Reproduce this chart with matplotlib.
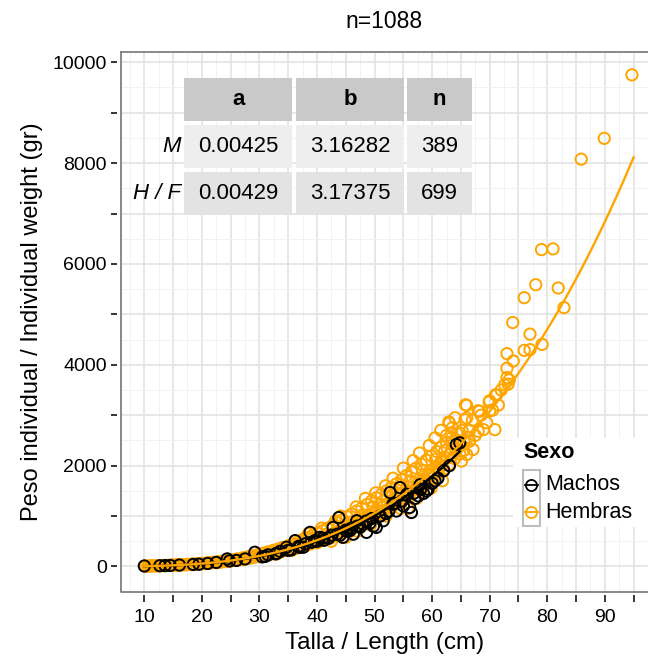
import numpy as np
import matplotlib
matplotlib.use("Agg")
import matplotlib.pyplot as plt
from matplotlib.patches import Rectangle
from matplotlib.lines import Line2D

plt.rcParams['font.family'] = ['Liberation Sans', 'DejaVu Sans']

# ---- datos ----
# Hembras (orange)
hem_talla = [10.2, 10.9, 11.4, 11.8, 12.3, 12.7, 13.2, 13.6, 14.1, 14.5, 15.0, 15.3, 15.9, 16.2, 16.8,
             17.1, 17.7, 18.0, 18.4, 18.9, 19.3, 19.8, 20.1, 20.6, 21.0, 21.5, 21.9, 22.4, 22.7, 23.3,
             23.6, 24.1, 24.5, 25.0, 25.4, 25.9, 26.2, 26.8, 27.1, 27.6, 28.0, 28.5, 28.9, 29.3, 29.8,
             30.2, 30.7, 31.0, 31.5, 31.9, 32.4, 32.8, 33.2, 33.7, 34.1, 34.6, 35.0, 35.3, 35.9, 36.2,
             36.8, 37.1, 37.6, 38.0, 38.3, 38.9, 39.2, 39.7, 40.1, 40.4, 41.0, 41.3, 41.8, 42.2, 42.7,
             43.0, 43.5, 43.9, 44.4, 44.8, 45.2, 45.7, 46.0, 46.5, 46.9, 47.4, 47.8, 48.1, 48.7, 49.0,
             49.5, 49.9, 50.3, 50.8, 51.2, 51.6, 52.1, 52.5, 52.9, 53.4, 53.8, 54.2, 54.7, 55.1, 55.5,
             56.0, 56.4, 56.9, 57.2, 57.7, 58.1, 58.6, 59.0, 59.4, 59.9, 60.3, 60.8, 61.1, 61.6, 62.0,
             62.5, 63.0, 63.4, 63.9, 64.3, 64.8, 65.2,
             10.6, 11.1, 12.0, 12.9, 13.9, 14.8, 15.6, 16.5, 17.4, 18.2, 19.1, 19.6, 20.4, 21.3, 22.0,
             22.9, 23.8, 24.7, 25.6, 26.4, 27.3, 28.2, 29.1, 30.0, 30.9, 31.7, 32.6, 33.5, 34.3, 35.2,
             36.0, 36.9, 37.8, 38.6, 39.5, 40.3, 41.2, 42.0, 42.9, 43.7, 44.6, 45.4, 46.3, 47.1, 48.0,
             48.9, 49.7, 50.6, 51.4, 52.3, 53.1, 54.0, 54.9, 55.8, 56.6, 57.5, 58.3, 59.2, 60.0, 60.9,
             61.7, 62.6, 63.3, 64.1, 64.9, 65.5, 66.2,
             38.5, 40.8, 43.2, 44.1, 46.8, 48.4, 50.2, 51.9, 53.2, 55.0, 56.7, 57.8, 59.5, 60.5, 61.5,
             47.0, 49.3, 52.0, 54.5, 57.3, 59.8, 61.8, 55.8, 42.5, 45.0,
             34.0, 36.4, 39.0, 41.6, 43.6, 45.9, 47.6, 49.8, 51.0, 53.7, 56.2, 58.4, 60.6, 62.2,
             33.0, 35.6, 37.9, 40.0, 42.3, 44.3, 46.2, 48.6, 50.5, 52.8, 54.3, 56.9, 58.9, 61.2,
             66.5, 67.0, 67.5, 68.5, 69.5, 70.5, 71.5, 72.0, 64.0, 62.5, 63.5, 65.5,
             62.9, 68.2, 69.9, 70.9, 65.8, 72.6, 73.4, 71.2, 65.7, 68.0, 64.8, 63.6, 66.5, 67.1, 63.1,
             65.1, 61.3, 66.0, 59.6,
             63.0, 66.0, 66.0, 68.0, 68.9, 70.0, 70.0, 71.0, 73.0, 73.0, 73.2, 74.1, 73.0, 76.0, 77.0,
             79.1, 77.0, 74.0, 76.0, 78.0, 81.9, 82.9, 79.0, 81.0, 85.9, 89.9, 94.7]
hem_peso = [6, 9, 11, 14, 15, 18, 20, 19, 24, 23, 27, 25, 31, 30, 36,
            33, 41, 38, 47, 44, 53, 50, 62, 58, 72, 68, 82, 76, 92, 86,
            104, 96, 118, 108, 132, 121, 150, 136, 170, 150, 192, 168, 215, 188, 240,
            200, 265, 218, 290, 240, 320, 262, 345, 290, 380, 318, 410, 330, 450, 350,
            495, 390, 540, 415, 575, 450, 615, 480, 660, 500, 710, 545, 760, 575, 810,
            615, 870, 650, 925, 690, 985, 740, 1040, 790, 1100, 840, 1160, 880, 1230, 930,
            1300, 990, 1360, 1040, 1430, 1100, 1500, 1160, 1570, 1220, 1640, 1280, 1720, 1340, 1800,
            1400, 1880, 1460, 1950, 1530, 2030, 1600, 2110, 1680, 2190, 1770, 2280, 1850, 2370, 1930,
            2460, 2030, 2550, 2140, 2640, 2230, 2700,
            7, 10, 12, 17, 21, 26, 30, 34, 39, 44, 50, 56, 62, 70, 80,
            90, 102, 112, 126, 138, 153, 172, 192, 205, 228, 250, 270, 298, 322, 350,
            372, 405, 440, 470, 505, 535, 575, 610, 655, 700, 745, 790, 840, 885, 940,
            1000, 1050, 1110, 1175, 1240, 1290, 1360, 1440, 1500, 1570, 1650, 1720, 1810, 1880, 1980,
            2070, 2150, 2240, 2330, 2420, 2480, 2560,
            650, 760, 900, 1000, 1180, 1350, 1460, 1600, 1750, 1950, 2100, 2250, 2400, 2550, 2700,
            700, 820, 1000, 1150, 1350, 1550, 1700, 1150, 500, 580,
            360, 430, 540, 640, 760, 880, 1010, 1180, 1230, 1460, 1700, 1900, 2130, 2300,
            250, 320, 400, 470, 560, 650, 750, 880, 990, 1180, 1290, 1520, 1710, 1950,
            2700, 2900, 2600, 3000, 2850, 3100, 3200, 3500, 2950, 2600, 2750, 2300,
            2866, 3077, 3260, 2714, 3207, 3602, 3700, 3404, 2911, 2682, 2649, 2485, 2485, 2320, 2221,
            2091, 2024, 2221, 1826,
            2846, 3195, 2945, 3089, 2714, 3286, 3089, 3404, 3747, 3931, 3616, 4075, 4221, 4286, 4300,
            4404, 4608, 4838, 5331, 5588, 5523, 5134, 6284, 6298, 8077, 8491, 9750]

# Machos (black)
mac_talla = [10.0, 12.7, 13.6, 14.5, 16.1, 24.4, 24.8, 26.0, 27.5, 29.2, 30.5, 31.5, 32.8, 33.6, 34.7,
             35.5, 36.2, 37.0, 37.6, 38.8, 39.6, 40.5, 41.2, 42.0, 42.8, 43.8, 44.0, 44.5, 45.2, 45.7,
             46.3, 46.9, 47.5, 48.0, 48.6, 49.2, 49.8, 50.3, 50.9, 51.5, 52.0, 52.7, 53.2, 53.8, 54.4,
             55.0, 55.6, 56.1, 56.4, 57.0, 57.6, 58.0, 58.5, 59.0, 59.3, 60.0, 61.0, 62.0, 63.0, 64.2,
             64.8, 31.0, 33.0, 35.0, 36.8, 38.0, 39.0, 40.0, 41.0, 42.5, 43.5, 45.0, 46.0, 47.0, 48.5,
             49.5, 51.0, 52.5, 53.5, 54.8, 56.8, 57.9, 60.5, 21.0, 22.5, 18.5, 19.5]
mac_peso = [10, 15, 18, 20, 28, 150, 110, 120, 150, 282, 190, 230, 250, 300, 381,
            330, 513, 380, 381, 677, 513, 578, 520, 560, 775, 970, 620, 578, 700, 710,
            640, 907, 780, 840, 677, 860, 800, 775, 1000, 907, 1050, 1466, 1235, 1100, 1564,
            1200, 1432, 1170, 1071, 1350, 1400, 1531, 1450, 1499, 1531, 1650, 1750, 1900, 2000, 2418,
            2452, 200, 260, 320, 400, 450, 480, 500, 560, 620, 640, 720, 760, 800, 900,
            950, 1000, 1100, 1250, 1300, 1450, 1620, 1700, 60, 80, 40, 45]

# tabla de parametros  W = a * L^b
filas = ['M', 'H / F']
col_a = [0.00425, 0.00429]
col_b = [3.16282, 3.17375]
col_n = [389, 699]
rango_talla = [(10.0, 64.8), (10.0, 95.0)]

naranja = '#FFA500'

W, H = 648, 661
fig = plt.figure(figsize=(6.48, 6.61), dpi=100)


def fx(x):
    return x / W


def fy(y):
    return 1 - y / H


ax = fig.add_axes([fx(120.7), fy(591.7), 1 - fx(120.7), fy(51.7) - fy(591.7)])
ax.set_xlim(5.9, 97.5)
ax.set_ylim(-442, 10209)

# grid like ggplot theme_bw
ax.set_xticks(np.arange(10, 96, 5))
ax.set_xticklabels([str(v) if v % 10 == 0 else '' for v in range(10, 96, 5)])
ax.set_yticks(np.arange(0, 10001, 1000))
ax.set_yticklabels([str(v) if v % 2000 == 0 else '' for v in range(0, 10001, 1000)])
ax.set_xticks(np.arange(7.5, 98, 5), minor=True)
ax.set_yticks(np.arange(-500, 10300, 1000), minor=True)
ax.grid(True, which='major', color='#E3E3E3', lw=1.2)
ax.grid(True, which='minor', color='#F2F2F2', lw=0.7)
ax.set_axisbelow(True)
ax.tick_params(which='minor', length=0)
ax.tick_params(which='major', direction='out', length=4.5, width=1.1, color='black',
               labelsize=14, pad=3)
ax.tick_params(axis='x', which='major', length=5, pad=5)

for s in ['left', 'bottom']:
    ax.spines[s].set_position(('outward', 2.5))
    ax.spines[s].set_color('none')
ax.spines['right'].set_visible(False)
ax.spines['top'].set_visible(False)
# panel border
ax.plot([0, 0, 1], [1, 0, 0], transform=ax.transAxes, color='#7F7F7F', lw=1.3, clip_on=False, zorder=5)
ax.plot([0, 1], [1, 1], transform=ax.transAxes, color='#7F7F7F', lw=1.3, clip_on=False, zorder=5)

ax.scatter(hem_talla, hem_peso, s=66, facecolors='none', edgecolors=naranja, linewidths=1.4, zorder=2)
ax.scatter(mac_talla, mac_peso, s=66, facecolors='none', edgecolors='black', linewidths=1.4, zorder=3)

# curvas ajustadas
for i, c in enumerate(['black', naranja]):
    L = np.linspace(rango_talla[i][0], rango_talla[i][1], 200)
    ax.plot(L, col_a[i] * L ** col_b[i], color=c, lw=1.7, zorder=4)

ax.set_xlabel('Talla / Length (cm)', fontsize=17.5, labelpad=4)
ax.set_ylabel('Peso individual / Individual weight (gr)', fontsize=17, labelpad=7)
fig.text(fx(384), fy(22), 'n=1088', fontsize=16.5, ha='center', va='center')

# tabla
cols_x = [(184.3, 292.3), (296.0, 404.0), (407.3, 471.7)]
rows_y = [(77.7, 121.0), (125.0, 168.0), (171.7, 214.7)]
fondos = ['#C9C9C9', '#EEEEEE', '#E3E3E3']
cab = ['a', 'b', 'n']
for j, (x0, x1) in enumerate(cols_x):
    for i, (y0, y1) in enumerate(rows_y):
        fig.add_artist(Rectangle((fx(x0), fy(y1)), fx(x1 - x0), fy(y0) - fy(y1),
                                 transform=fig.transFigure, facecolor=fondos[i], edgecolor='none', zorder=6))
    fig.text(fx((x0 + x1) / 2), fy(sum(rows_y[0]) / 2), cab[j], fontsize=16, fontweight='bold',
             ha='center', va='center', zorder=7)
valores = [[f'{v:.5f}' for v in col_a], [f'{v:.5f}' for v in col_b], [str(v) for v in col_n]]
for i in range(2):
    yc = sum(rows_y[i + 1]) / 2
    fig.text(fx(181), fy(yc), filas[i], fontsize=16, fontstyle='italic', ha='right', va='center', zorder=7)
    for j, (x0, x1) in enumerate(cols_x):
        fig.text(fx((x0 + x1) / 2), fy(yc), valores[j][i], fontsize=16, ha='center', va='center', zorder=7)

# leyenda
fig.add_artist(Rectangle((fx(513), fy(527)), fx(135), fy(438) - fy(527), transform=fig.transFigure,
                         facecolor='white', edgecolor='none', zorder=6))
fig.add_artist(Rectangle((fx(522.7), fy(526)), fx(17.3), fy(470) - fy(526), transform=fig.transFigure,
                         facecolor='white', edgecolor='#BDBDBD', lw=1.5, zorder=7))
fig.text(fx(523), fy(452), 'Sexo', fontsize=15.5, fontweight='bold', ha='left', va='center', zorder=8)
for k, (lab, c) in enumerate([('Machos', 'black'), ('Hembras', naranja)]):
    yk = fy(485 + 27 * k)
    fig.add_artist(Line2D([fx(525), fx(538)], [yk, yk], transform=fig.transFigure, color=c, lw=1.3,
                          zorder=8))
    fig.add_artist(Line2D([fx(531.3)], [yk], transform=fig.transFigure, color=c, marker='o',
                          markersize=8, mfc='none', mew=1.3, lw=0, zorder=8))
    fig.text(fx(545), yk, lab, fontsize=15.5, ha='left', va='center', zorder=8)

fig.savefig('out.png', dpi=100)
